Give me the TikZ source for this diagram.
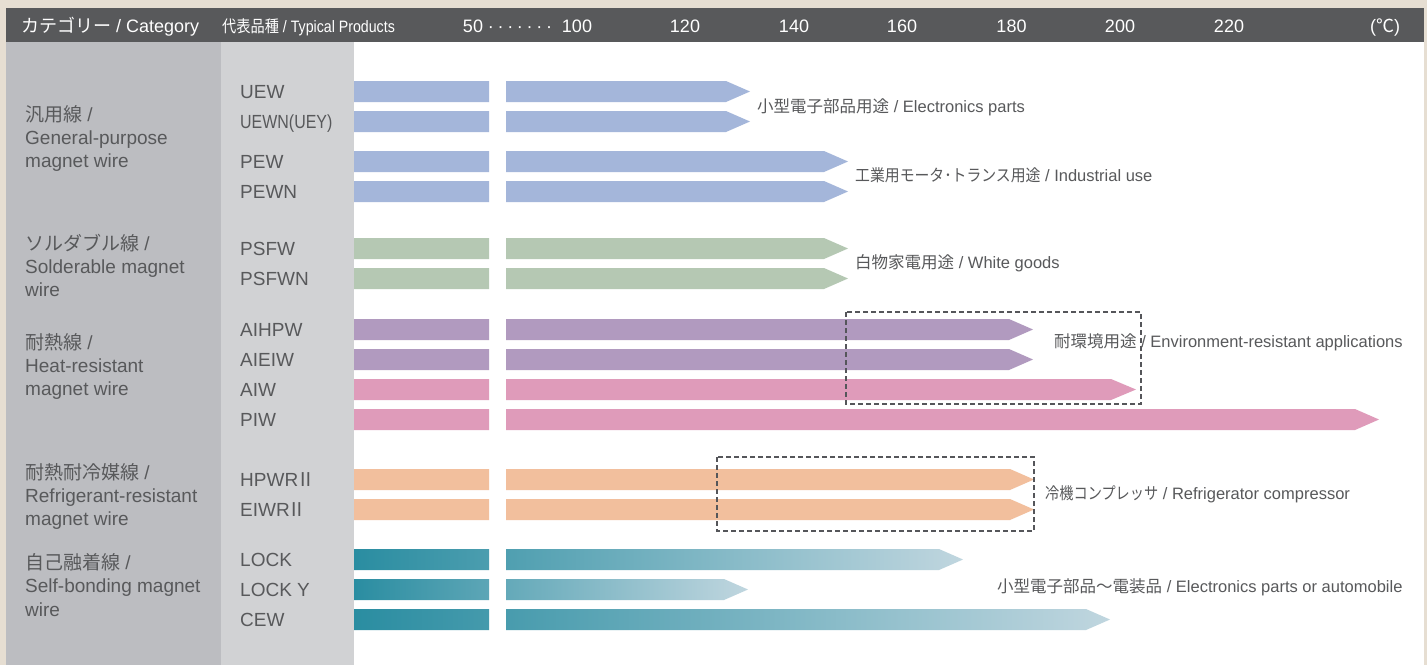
\documentclass[tikz,border=0pt]{standalone}
\usepackage{fontspec}
\setmainfont{Liberation Sans}
\newfontfamily\jp{Noto Sans CJK JP}
\newcommand\J[1]{{\jp #1}}
\definecolor{beige}{HTML}{E6DED2}
\definecolor{hdr}{HTML}{58595B}
\definecolor{colA}{HTML}{BCBDC1}
\definecolor{colB}{HTML}{D1D2D4}
\definecolor{txt}{HTML}{58595B}
\definecolor{blueW}{HTML}{A4B6DA}
\definecolor{greenW}{HTML}{B5C8B3}
\definecolor{purpW}{HTML}{B19ABF}
\definecolor{pinkW}{HTML}{DF9BBA}
\definecolor{orangeW}{HTML}{F2BF9D}
\definecolor{tealD}{HTML}{2A8DA1}
\definecolor{tealL}{HTML}{C0D6DF}
\definecolor{dashc}{HTML}{55565A}
\newcommand\wbar[4]{\path[#4] (354,#1) -- (#2,#1) -- (#3,#1+10.5) -- (#2,#1+21) -- (354,#1+21) -- cycle;}
\tikzset{
  hd/.style={inner sep=0pt, anchor=base, text=white, font=\fontsize{18}{22}\selectfont},
  cat/.style={inner sep=0pt, anchor=base west, text=txt, font=\fontsize{19}{23}\selectfont},
  prod/.style={inner sep=0pt, anchor=base west, text=txt, font=\fontsize{19}{23}\selectfont},
  ann/.style={inner sep=0pt, anchor=base west, text=txt, font=\fontsize{16.5}{20}\selectfont},
  dbox/.style={draw=dashc, line width=1.6pt, dash pattern=on 5pt off 3pt}
}
\begin{document}
\begin{tikzpicture}[x=1pt,y=-1pt]
\useasboundingbox (0,0) rectangle (1427,665);
% panels
\fill[beige] (0,0) rectangle (1427,665);
\fill[white] (354,42) rectangle (1424,665);
\fill[colA] (6,42) rectangle (221,665);
\fill[colB] (221,42) rectangle (354,665);
\fill[hdr] (6,8) rectangle (1424,42);
% header
\node[hd, anchor=base west] (hcat) at (21,32.5) {\J{カテゴリー} / Category};
\node[hd, anchor=base west] (hprod) at (222,32.5) {\fontsize{16.5}{20}\selectfont\scalebox{0.86}[1]{\J{代表品種} / Typical Products}};
\node[hd] (t50) at (473,32.5) {50};
\node[hd] (tdots) at (520,32.5) {·\hspace{3.7pt}·\hspace{3.7pt}·\hspace{3.7pt}·\hspace{3.7pt}·\hspace{3.7pt}·\hspace{3.7pt}·};
\node[hd] (t100) at (577,32.5) {100};
\node[hd] (t120) at (685,32.5) {120};
\node[hd] (t140) at (794,32.5) {140};
\node[hd] (t160) at (902,32.5) {160};
\node[hd] (t180) at (1011.5,32.5) {180};
\node[hd] (t200) at (1120,32.5) {200};
\node[hd] (t220) at (1229,32.5) {220};
\node[hd] (tunit) at (1385,32.5) {(\J{℃})};
% categories
\node[cat] (c1a) at (25,121.5) {\J{汎用線} /};
\node[cat] (c1b) at (25,144.5) {General-purpose};
\node[cat] (c1c) at (25,167.5) {magnet wire};
\node[cat] (c2a) at (25,250) {\J{ソルダブル線} /};
\node[cat] (c2b) at (25,273.3) {Solderable magnet};
\node[cat] (c2c) at (25,296.5) {wire};
\node[cat] (c3a) at (25,349.5) {\J{耐熱線} /};
\node[cat] (c3b) at (25,372.7) {Heat-resistant};
\node[cat] (c3c) at (25,395.5) {magnet wire};
\node[cat] (c4a) at (25,479) {\J{耐熱耐冷媒線} /};
\node[cat] (c4b) at (25,502.5) {Refrigerant-resistant};
\node[cat] (c4c) at (25,525.5) {magnet wire};
\node[cat] (c5a) at (25,569.5) {\J{自己融着線} /};
\node[cat] (c5b) at (25,592.7) {Self-bonding magnet};
\node[cat] (c5c) at (25,616) {wire};
% products
\node[prod] (pUEW) at (240,98.5) {UEW};
\node[prod] (pUEWN) at (240,128.5) {\scalebox{0.84}[1]{UEWN(UEY)}};
\node[prod] (pPEW) at (240,168.5) {PEW};
\node[prod] (pPEWN) at (240,198.5) {PEWN};
\node[prod] (pPSFW) at (240,255.5) {PSFW};
\node[prod] (pPSFWN) at (240,285.5) {PSFWN};
\node[prod] (pAIHPW) at (240,336.5) {AIHPW};
\node[prod] (pAIEIW) at (240,366.5) {AIEIW};
\node[prod] (pAIW) at (240,396.5) {AIW};
\node[prod] (pPIW) at (240,426.5) {PIW};
\node[prod] (pHPWR) at (240,486.5) {HPWR\kern-2pt\J{Ⅱ}};
\node[prod] (pEIWR) at (240,516.5) {EIWR\kern-2pt\J{Ⅱ}};
\node[prod] (pLOCK) at (240,566.5) {LOCK};
\node[prod] (pLOCKY) at (240,596.5) {LOCK Y};
\node[prod] (pCEW) at (240,626.5) {CEW};
% bars
\begin{scope}
\clip (354,60) rectangle (489,650) (506,60) rectangle (1424,650);
\wbar{81}{726}{750}{fill=blueW}
\wbar{111}{726}{750}{fill=blueW}
\wbar{151}{824}{848}{fill=blueW}
\wbar{181}{824}{848}{fill=blueW}
\wbar{238}{824}{848}{fill=greenW}
\wbar{268}{824}{848}{fill=greenW}
\wbar{319}{1009}{1033}{fill=purpW}
\wbar{349}{1009}{1033}{fill=purpW}
\wbar{379}{1111}{1136}{fill=pinkW}
\wbar{409}{1355}{1379}{fill=pinkW}
\wbar{469}{1010}{1034}{fill=orangeW}
\wbar{499}{1010}{1034}{fill=orangeW}
\wbar{549}{939}{963}{left color=tealD,right color=tealL}
\wbar{579}{724}{748}{left color=tealD,right color=tealL}
\wbar{609}{1086}{1110}{left color=tealD,right color=tealL}
\end{scope}
% dashed boxes
\draw[dbox] (846,312) rectangle (1141,404);
\draw[dbox] (717,457) rectangle (1034,531);
% annotations
\node[ann] (a1) at (757,112) {\J{小型電子部品用途} / Electronics parts};
\node[ann] (a2) at (855,181) {\scalebox{0.9}[1]{\J{工業用モータ･トランス用途}} / Industrial use};
\node[ann] (a3) at (855,268) {\J{白物家電用途} / White goods};
\node[ann] (a4) at (1054,347) {\J{耐環境用途} / Environment-resistant applications};
\node[ann] (a5) at (1045,499) {\scalebox{0.86}[1]{\J{冷機コンプレッサ}} / Refrigerator compressor};
\node[ann] (a6) at (997,592) {\J{小型電子部品〜電装品} / Electronics parts or automobile};
\end{tikzpicture}
\end{document}
